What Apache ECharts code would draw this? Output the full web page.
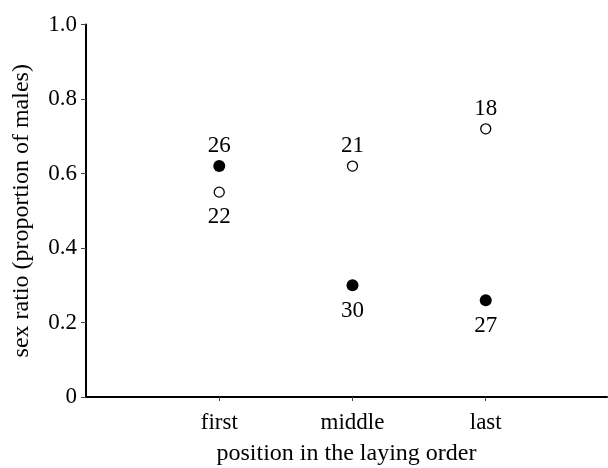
<!DOCTYPE html>
<html>
<head>
<meta charset="utf-8">
<script src="https://cdn.jsdelivr.net/npm/echarts@6/dist/echarts.min.js"></script>
<style>html,body{margin:0;padding:0;background:#fff}#c{width:608px;height:468px}</style>
</head>
<body>
<div id="c"></div>
<script>
var categories = ['first', 'middle', 'last'];
var filledValues = [0.62, 0.30, 0.26];
var filledCounts = [26, 30, 27];
var filledLabelSide = ['top', 'bottom', 'bottom'];
var openValues = [0.55, 0.62, 0.72];
var openCounts = [22, 21, 18];
var openLabelSide = ['bottom', 'top', 'top'];
var yTicks = [0, 0.2, 0.4, 0.6, 0.8, 1.0];

var font = 'Liberation Serif';
function build(vals, counts, side) {
  return vals.map(function (v, i) {
    return {
      value: [i + 1, v],
      label: { position: side[i], distance: side[i] === 'top' ? 3 : 8, formatter: String(counts[i]) }
    };
  });
}
var chart = echarts.init(document.getElementById('c'));
chart.setOption({
  animation: false,
  grid: { left: 86, right: 1, top: 24.5, bottom: 71, outerBoundsMode: 'none', containLabel: false },
  xAxis: {
    type: 'value', min: 0, max: 3.91, interval: 1,
    name: 'position in the laying order', nameLocation: 'middle', nameGap: 45,
    nameTextStyle: { fontFamily: font, fontSize: 24, color: '#000' },
    splitLine: { show: false },
    axisLine: { lineStyle: { color: '#000', width: 2 } },
    axisTick: { show: true, length: 4, customValues: [1, 2, 3], lineStyle: { color: '#444', width: 1 } },
    axisLabel: {
      customValues: [1, 2, 3], margin: 14,
      fontFamily: font, fontSize: 23, color: '#000',
      formatter: function (v) { return categories[Math.round(v) - 1] || ''; }
    }
  },
  yAxis: {
    type: 'value', min: 0, max: 1, interval: 0.2,
    name: 'sex ratio (proportion of males)', nameLocation: 'middle', nameGap: 52,
    nameTextStyle: { fontFamily: font, fontSize: 24, color: '#000' },
    splitLine: { show: false },
    axisLine: { show: true, lineStyle: { color: '#000', width: 2 } },
    axisTick: { show: true, length: 5, lineStyle: { color: '#444', width: 1 } },
    axisLabel: {
      customValues: yTicks, margin: 9,
      fontFamily: font, fontSize: 23, color: '#000',
      formatter: function (v) { return v === 0 ? '0' : v.toFixed(1); }
    }
  },
  series: [
    {
      type: 'scatter', symbol: 'circle', symbolSize: 12,
      itemStyle: { color: '#000', opacity: 1 },
      emphasis: { disabled: true },
      label: { show: true, fontFamily: font, fontSize: 23, color: '#000', opacity: 1 },
      data: build(filledValues, filledCounts, filledLabelSide)
    },
    {
      type: 'scatter', symbol: 'circle', symbolSize: 10,
      itemStyle: { color: '#fff', borderColor: '#000', borderWidth: 1.3, opacity: 1 },
      emphasis: { disabled: true },
      label: { show: true, fontFamily: font, fontSize: 23, color: '#000', opacity: 1 },
      data: build(openValues, openCounts, openLabelSide)
    }
  ]
});
</script>
</body>
</html>
